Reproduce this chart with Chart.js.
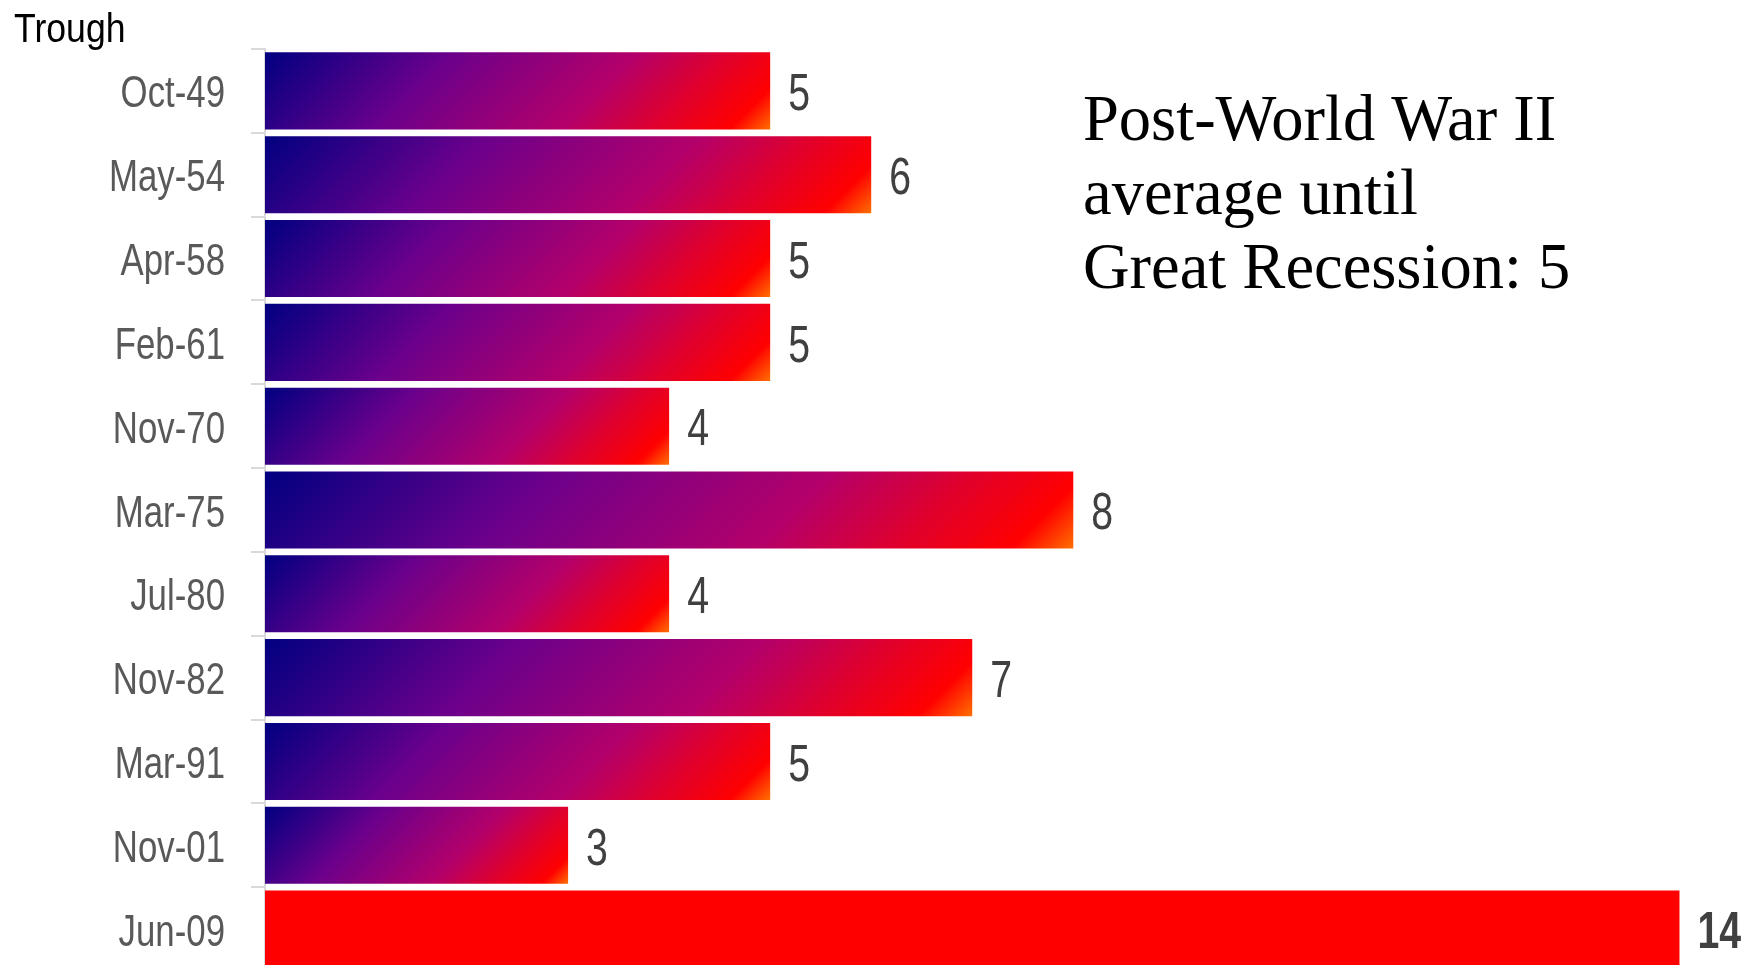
<!DOCTYPE html>
<html>
<head>
<meta charset="utf-8">
<script src="https://cdn.jsdelivr.net/npm/chart.js@4.4.1/dist/chart.umd.min.js"></script>
<style>
  html, body { margin: 0; padding: 0; background: #fff; overflow: hidden; }
  canvas { display: block; }
</style>
</head>
<body>
<canvas id="chart" width="1743" height="971"></canvas>
<script>
// recession troughs and the value shown next to each bar
const troughs = ['Oct-49', 'May-54', 'Apr-58', 'Feb-61', 'Nov-70', 'Mar-75', 'Jul-80', 'Nov-82', 'Mar-91', 'Nov-01', 'Jun-09'];
const values = [5, 6, 5, 5, 4, 8, 4, 7, 5, 3, 14];
const highlighted = ['Jun-09'];
const axisTitle = 'Trough';
const noteLines = ['Post-World War II', 'average until', 'Great Recession: 5'];

const SANS = "'Liberation Sans', Arial, sans-serif";
const BAR_PCT = 0.92;

// no narrow face installed, so squeeze the regular one
function narrowText(ctx, text, x, y, size, squeeze, align, weight) {
  ctx.save();
  ctx.font = (weight || 'normal') + ' ' + size + 'px ' + SANS;
  ctx.textBaseline = 'alphabetic';
  ctx.textAlign = align;
  ctx.translate(x, y);
  ctx.scale(squeeze, 1);
  ctx.fillText(text, 0, 0);
  ctx.restore();
}

const barFill = (c) => {
  if (c.type !== 'data') return '#ff0000';
  const chart = c.chart;
  const i = c.dataIndex;
  if (highlighted.includes(troughs[i])) return '#ff0000';
  const xs = chart.scales.x, ys = chart.scales.y;
  if (!chart.chartArea || !xs || !ys) return '#8a0080';
  const x0 = xs.getPixelForValue(0);
  const w = xs.getPixelForValue(values[i]) - x0;
  const h = (ys.getPixelForValue(1) - ys.getPixelForValue(0)) * BAR_PCT;
  const top = ys.getPixelForValue(i) - h / 2;
  const d = (w + h) / 2;
  const g = chart.ctx.createLinearGradient(x0, top, x0 + d, top + d);
  g.addColorStop(0, '#000080');
  g.addColorStop(0.32, '#6a008c');
  g.addColorStop(0.64, '#b4006a');
  g.addColorStop(0.8, '#e0002c');
  g.addColorStop(0.93, '#ff0000');
  g.addColorStop(1, '#ff7000');
  return g;
};

const textLayer = {
  id: 'textLayer',
  afterDraw(chart) {
    const ctx = chart.ctx;
    const ys = chart.scales.y;
    const meta = chart.getDatasetMeta(0);

    ctx.fillStyle = '#000';
    narrowText(ctx, axisTitle, 14, 42, 40, 0.89, 'left');

    ctx.fillStyle = '#595959';
    troughs.forEach((t, i) => {
      const yc = ys.getPixelForValue(i);
      narrowText(ctx, t, ys.right - 40, yc + 1 + 43.5 * 0.358, 43.5, 0.8, 'right');
    });

    ctx.fillStyle = '#404040';
    meta.data.forEach((bar, i) => {
      const bold = highlighted.includes(troughs[i]);
      narrowText(ctx, String(values[i]), bar.x + 18, bar.y + 1 + 51 * 0.358, 51, 0.77, 'left', bold ? 'bold' : 'normal');
    });

    ctx.save();
    ctx.fillStyle = '#000';
    ctx.font = "64.5px 'Liberation Serif', 'Times New Roman', serif";
    ctx.textAlign = 'left';
    ctx.textBaseline = 'alphabetic';
    noteLines.forEach((line, k) => {
      ctx.fillText(line, 1083, 140 + k * 74);
    });
    ctx.restore();
  }
};

new Chart(document.getElementById('chart'), {
  type: 'bar',
  data: {
    labels: troughs,
    datasets: [{
      label: axisTitle,
      data: values,
      backgroundColor: barFill,
      borderWidth: 0,
      categoryPercentage: 1,
      barPercentage: BAR_PCT
    }]
  },
  options: {
    indexAxis: 'y',
    responsive: false,
    animation: false,
    devicePixelRatio: 1,
    layout: { padding: { left: 14, right: 13, top: 49, bottom: 0 } },
    scales: {
      x: {
        display: false,
        min: 0,
        max: 14.5
      },
      y: {
        afterFit: (scale) => {
          scale.width = 251;
          scale.paddingTop = 0;
          scale.paddingBottom = 0;
        },
        grid: {
          offset: true,
          drawOnChartArea: false,
          drawTicks: true,
          tickLength: 14,
          color: '#d9d9d9',
          lineWidth: 2
        },
        border: { display: true, color: '#d9d9d9', width: 2 },
        ticks: { display: false }
      }
    },
    plugins: {
      legend: { display: false },
      tooltip: { enabled: false },
      title: { display: false }
    }
  },
  plugins: [textLayer]
});
</script>
</body>
</html>
